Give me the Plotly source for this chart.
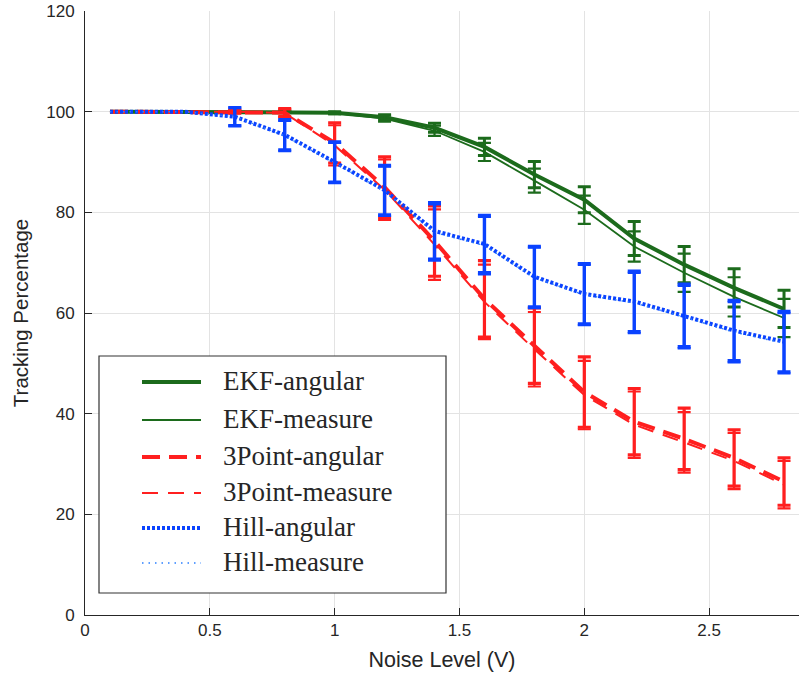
import math
import plotly.graph_objects as go

# ---------------- data ----------------
noise = [0.1, 0.4, 0.6, 0.8, 1.0, 1.2, 1.4, 1.6, 1.8, 2.0, 2.2, 2.4, 2.6, 2.8]
nan = float("nan")

ekf_angular = [100, 100, 100, 100, 99.8, 98.9, 96.8, 93.0, 87.5, 82.5, 74.8, 69.6, 65.0, 60.8]
ekf_angular_err = [nan, nan, 0.1, 0.1, 0.2, 0.5, 0.9, 1.7, 2.6, 2.6, 3.4, 3.6, 3.8, 3.7]
ekf_measure = [100, 100, 100, 100, 99.7, 98.6, 96.2, 92.0, 86.3, 80.5, 73.2, 68.0, 63.2, 59.0]
ekf_measure_err = [nan, nan, 0.1, 0.1, 0.2, 0.6, 1.0, 1.8, 2.4, 2.8, 3.0, 3.8, 3.9, 3.8]

tp_angular = [100, 100, 100, 99.8, 93.8, 85.0, 74.3, 62.8, 53.5, 44.3, 38.4, 35.0, 31.2, 26.5]
tp_angular_err = [nan, nan, 0.3, 0.8, 4.0, 6.0, 7.0, 7.6, 7.5, 7.0, 6.6, 6.1, 5.6, 4.7]
tp_measure = [100, 100, 100, 99.7, 93.3, 84.5, 73.6, 62.2, 52.8, 43.7, 37.8, 34.3, 30.6, 25.9]
tp_measure_err = [nan, nan, 0.3, 0.8, 4.0, 6.0, 7.0, 7.4, 7.4, 6.8, 6.6, 6.0, 5.6, 4.7]

hill_angular = [100, 100, 99.0, 95.4, 90.0, 84.4, 76.3, 73.7, 67.2, 63.8, 62.3, 59.5, 56.5, 54.3]
hill_angular_err = [nan, nan, 1.8, 3.0, 4.0, 4.9, 5.6, 5.7, 6.0, 6.0, 6.0, 6.2, 6.0, 6.0]
hill_measure = [100, 100, 99.0, 95.2, 89.8, 84.2, 76.0, 73.4, 67.0, 63.6, 62.0, 59.2, 56.2, 54.0]
hill_measure_err = [nan, nan, 1.8, 3.0, 4.0, 4.9, 5.6, 5.7, 6.0, 6.0, 6.0, 6.2, 6.0, 6.0]

x_ticks = [0, 0.5, 1, 1.5, 2, 2.5]
x_tick_labels = ["0", "0.5", "1", "1.5", "2", "2.5"]
y_ticks = [0, 20, 40, 60, 80, 100, 120]

GREEN = "#1c6b1c"
RED = "#ff1f1f"
BLUE = "#0a42ff"
LBLUE = "#2a7fff"

# name, values, errors, line colour, line width, dash, error colour, error thickness
series = [
    ("EKF-angular", ekf_angular, ekf_angular_err, GREEN, 4.0, "solid", GREEN, 3.0),
    ("EKF-measure", ekf_measure, ekf_measure_err, GREEN, 1.8, "solid", GREEN, 2.2),
    ("3Point-angular", tp_angular, tp_angular_err, RED, 4.0, "18px,9px", RED, 3.2),
    ("3Point-measure", tp_measure, tp_measure_err, RED, 2.0, "16px,10px", RED, 2.2),
    ("Hill-angular", hill_angular, hill_angular_err, BLUE, 4.0, "3px,2px", BLUE, 3.4),
    ("Hill-measure", hill_measure, hill_measure_err, LBLUE, 1.5, "1.5px,5px", BLUE, 2.4),
]

fig = go.Figure()
for name, ys, errs, color, lw, dash, ecol, ew in series:
    fig.add_trace(go.Scatter(
        x=noise, y=ys, mode="lines", name=name,
        line=dict(color=color, width=lw, dash=dash),
        showlegend=False, hoverinfo="skip",
    ))
    idx = [i for i, e in enumerate(errs) if not math.isnan(e)]
    fig.add_trace(go.Scatter(
        x=[noise[i] for i in idx], y=[ys[i] for i in idx], mode="markers",
        marker=dict(size=2, opacity=0, color=color),
        error_y=dict(type="data", array=[errs[i] for i in idx], visible=True,
                     color=ecol, thickness=ew, width=6.5),
        showlegend=False, hoverinfo="skip",
    ))

# ---------------- layout geometry ----------------
W, H = 799, 678
L, T, B = 85, 11, 615
PW, PH = W - L, B - T


def px(xp):
    return (xp - L) / PW


def py(yp):
    return (B - yp) / PH


shapes = []
# white area hiding part of the grid (as in the reference)
shapes.append(dict(type="rect", xref="paper", yref="paper", layer="between",
                   x0=px(568), x1=px(791), y0=py(176), y1=py(30),
                   fillcolor="white", line=dict(width=0)))

# legend box
shapes.append(dict(type="rect", xref="paper", yref="paper", layer="above",
                   x0=px(99), x1=px(446), y0=py(593), y1=py(356),
                   fillcolor="white", line=dict(color="#333333", width=1.2)))

legend_rows = [382, 420, 457, 493, 528, 563]
annotations = []
for (name, ys, errs, color, lw, dash, ecol, ew), yr in zip(series, legend_rows):
    shapes.append(dict(type="line", xref="paper", yref="paper", layer="above",
                       x0=px(142), x1=px(201), y0=py(yr), y1=py(yr),
                       line=dict(color=color, width=lw, dash=dash)))
    annotations.append(dict(xref="paper", yref="paper", x=px(221), y=py(yr - 1),
                            xanchor="left", yanchor="middle", showarrow=False,
                            text=name,
                            font=dict(family="Liberation Serif", size=27, color="#262626")))

fig.update_layout(
    width=W, height=H,
    margin=dict(l=L, r=0, t=T, b=H - B, pad=0),
    paper_bgcolor="white", plot_bgcolor="white",
    shapes=shapes, annotations=annotations,
    showlegend=False,
    font=dict(family="Liberation Sans", color="#262626"),
    xaxis=dict(
        range=[0, 2.86], tickvals=x_ticks, ticktext=x_tick_labels,
        showgrid=True, gridcolor="#e3e3e3", gridwidth=1, zeroline=False,
        showline=True, linecolor="#262626", linewidth=1,
        ticks="inside", ticklen=7, tickcolor="#262626",
        tickfont=dict(size=17, color="#262626"),
        title=dict(text="Noise Level (V)", font=dict(size=21.5, color="#262626"), standoff=12),
    ),
    yaxis=dict(
        range=[0, 120], tickvals=y_ticks,
        showgrid=True, gridcolor="#e3e3e3", gridwidth=1, zeroline=False,
        showline=True, linecolor="#262626", linewidth=1,
        ticks="inside", ticklen=7, tickcolor="#262626",
        tickfont=dict(size=17, color="#262626"),
        ticklabelstandoff=6,
        title=dict(text="Tracking Percentage", font=dict(size=20.5, color="#262626"), standoff=12),
    ),
)

fig.write_html("out.html")
